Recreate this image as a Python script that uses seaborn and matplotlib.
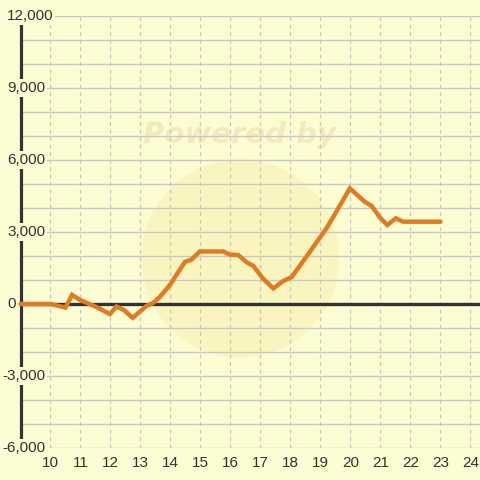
import matplotlib
matplotlib.use("Agg")
import matplotlib.pyplot as plt
import matplotlib.transforms as mtransforms
from matplotlib.patches import Ellipse
import pandas as pd
import seaborn as sns

# data
hours = [9.0, 10.0, 10.5, 10.72, 10.98, 11.54, 11.98, 12.2, 12.45, 12.74,
         13.2, 13.42, 13.65, 13.98, 14.48, 14.7, 14.98, 15.76, 15.98, 16.26,
         16.54, 16.76, 17.09, 17.43, 17.76, 18.04, 18.65, 19.2, 19.48, 19.98,
         20.48, 20.71, 20.98, 21.23, 21.51, 21.76, 23.0]
values = [0, 0, -150, 380, 170, -130, -420, -110, -250, -580,
          -80, 40, 300, 790, 1750, 1850, 2190, 2190, 2060, 2040,
          1740, 1590, 1050, 650, 960, 1120, 2180, 3150, 3740, 4820,
          4260, 4080, 3610, 3290, 3570, 3430, 3430]
x_ticks = list(range(10, 25))
y_labels = [12000, 9000, 6000, 3000, 0, -3000, -6000]
y_grid = list(range(-6000, 12001, 1000))

bg = "#fdfdd3"
orange = "#e07b24"
dark = "#333333"

sns.set_style("white")
plt.rcParams["font.family"] = ["Liberation Sans", "DejaVu Sans"]

df = pd.DataFrame({"hour": hours, "value": values})

fig = plt.figure(figsize=(4.8, 4.8), dpi=100, facecolor=bg)
ax = fig.add_axes([20.5 / 480, 32 / 480, 1 - 20.5 / 480, 432 / 480])
ax.set_facecolor(bg)
ax.set_xlim(9, 24.32)
ax.set_ylim(-6000, 12000)

# faint watermark
ax.add_patch(Ellipse((16.32, 1900), 6.6, 8250, facecolor="#f8eeb0", alpha=0.55,
                     edgecolor="none", zorder=0.5))
ax.text(16.3, 7050, "Powered by", fontsize=21, fontweight="bold", style="italic",
        color="#f2e6b0", alpha=0.8, ha="center", va="center", zorder=0.6,
        family=["DejaVu Sans"])

# grid
for g in y_grid:
    ax.axhline(g, color="#c8c8c8", lw=1.0, zorder=1)
for t in x_ticks:
    ax.axvline(t, color="#c4c4c4", lw=0.9, ls=(0, (3, 3)), zorder=1)
ax.axhline(0, color=dark, lw=2.4, zorder=2)

sns.lineplot(data=df, x="hour", y="value", ax=ax, color=orange, lw=3.2,
             zorder=5, clip_on=False, solid_joinstyle="miter")

for s in ["top", "right", "bottom"]:
    ax.spines[s].set_visible(False)
ax.spines["left"].set_color(dark)
ax.spines["left"].set_linewidth(2.3)

ax.set_xticks(x_ticks)
ax.set_xticklabels([str(t) for t in x_ticks])
ax.tick_params(axis="x", length=0, pad=6, labelsize=11, labelcolor=dark)
ax.set_yticks([])
ax.set_xlabel("")
ax.set_ylabel("")

trans = mtransforms.blended_transform_factory(fig.transFigure, ax.transData)
for v in y_labels:
    xpos = (2 if v < 0 else 7) / 480
    ax.text(xpos, v, f"{v:,}", transform=trans, ha="left", va="center",
            fontsize=11, color=dark, zorder=6,
            bbox=dict(boxstyle="square,pad=0.12", facecolor=bg, edgecolor="none"))

fig.savefig("out.png", dpi=100, facecolor=bg)
